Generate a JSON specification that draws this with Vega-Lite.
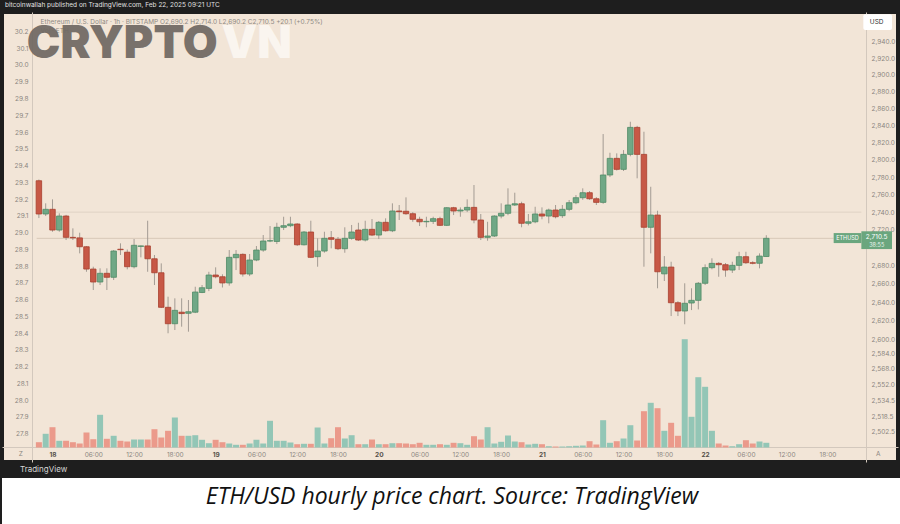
{
"$schema": "https://vega.github.io/schema/vega-lite/v6.json",
"background": "#1e1e1e",
"padding": 0,
"spacing": 2,
"config": {"font": "Inter", "view": {"stroke": null}},
"vconcat": [
{
"title": {"text": "bitcoinwallah published on TradingView.com, Feb 22, 2025 09:21 UTC", "anchor": "start", "dx": 3, "fontSize": 6.5, "fontWeight": "normal", "color": "#e0e0e0", "offset": 3.5, "font": "Inter"},
"width": 896,
"height": 450,
"view": {"fill": "#f2e5d7", "stroke": "#1e1e1e", "strokeWidth": 4},
"data": {"values": [
{"t":"2025-02-17T22:00Z","o":2775.8,"h":2777.2,"l":2733.3,"c":2737.9,"v":530},
{"t":"2025-02-17T23:00Z","o":2737.9,"h":2750.0,"l":2735.6,"c":2743.2,"v":1370},
{"t":"2025-02-18T00:00Z","o":2743.2,"h":2754.5,"l":2717.9,"c":2719.8,"v":2030},
{"t":"2025-02-18T01:00Z","o":2719.8,"h":2738.7,"l":2717.9,"c":2735.6,"v":670},
{"t":"2025-02-18T02:00Z","o":2735.6,"h":2736.9,"l":2708.6,"c":2711.6,"v":670},
{"t":"2025-02-18T03:00Z","o":2711.6,"h":2721.7,"l":2708.6,"c":2711.0,"v":530},
{"t":"2025-02-18T04:00Z","o":2711.0,"h":2716.8,"l":2693.7,"c":2701.1,"v":400},
{"t":"2025-02-18T05:00Z","o":2701.1,"h":2701.8,"l":2673.3,"c":2676.3,"v":1500},
{"t":"2025-02-18T06:00Z","o":2676.3,"h":2678.9,"l":2653.2,"c":2662.0,"v":830},
{"t":"2025-02-18T07:00Z","o":2662.0,"h":2677.1,"l":2658.7,"c":2671.6,"v":3270},
{"t":"2025-02-18T08:00Z","o":2671.6,"h":2677.1,"l":2653.2,"c":2667.2,"v":870},
{"t":"2025-02-18T09:00Z","o":2667.2,"h":2697.4,"l":2664.2,"c":2696.3,"v":1170},
{"t":"2025-02-18T10:00Z","o":2698.3,"h":2704.9,"l":2691.9,"c":2697.8,"v":670},
{"t":"2025-02-18T11:00Z","o":2695.0,"h":2698.0,"l":2676.0,"c":2678.9,"v":600},
{"t":"2025-02-18T12:00Z","o":2678.9,"h":2709.7,"l":2677.0,"c":2702.7,"v":800},
{"t":"2025-02-18T13:00Z","o":2701.5,"h":2702.3,"l":2689.3,"c":2702.0,"v":800},
{"t":"2025-02-18T14:00Z","o":2702.0,"h":2730.3,"l":2673.3,"c":2687.7,"v":800},
{"t":"2025-02-18T15:00Z","o":2687.7,"h":2691.9,"l":2658.7,"c":2672.2,"v":1830},
{"t":"2025-02-18T16:00Z","o":2672.2,"h":2682.6,"l":2633.5,"c":2634.3,"v":1000},
{"t":"2025-02-18T17:00Z","o":2634.3,"h":2645.9,"l":2606.2,"c":2616.5,"v":1670},
{"t":"2025-02-18T18:00Z","o":2616.5,"h":2644.1,"l":2609.7,"c":2631.0,"v":3000},
{"t":"2025-02-18T19:00Z","o":2629.0,"h":2644.1,"l":2613.3,"c":2627.5,"v":1170},
{"t":"2025-02-18T20:00Z","o":2627.8,"h":2642.3,"l":2607.9,"c":2629.5,"v":1170},
{"t":"2025-02-18T21:00Z","o":2629.0,"h":2656.8,"l":2628.0,"c":2651.0,"v":1230},
{"t":"2025-02-18T22:00Z","o":2650.5,"h":2658.7,"l":2649.8,"c":2655.7,"v":770},
{"t":"2025-02-18T23:00Z","o":2655.0,"h":2673.3,"l":2652.0,"c":2669.7,"v":430},
{"t":"2025-02-19T00:00Z","o":2669.7,"h":2678.2,"l":2666.1,"c":2667.8,"v":770},
{"t":"2025-02-19T01:00Z","o":2667.8,"h":2670.5,"l":2656.0,"c":2661.0,"v":530},
{"t":"2025-02-19T02:00Z","o":2661.0,"h":2697.4,"l":2658.0,"c":2689.3,"v":400},
{"t":"2025-02-19T03:00Z","o":2688.9,"h":2697.4,"l":2675.2,"c":2692.6,"v":270},
{"t":"2025-02-19T04:00Z","o":2692.6,"h":2693.7,"l":2668.0,"c":2670.8,"v":270},
{"t":"2025-02-19T05:00Z","o":2670.8,"h":2693.0,"l":2668.5,"c":2686.3,"v":400},
{"t":"2025-02-19T06:00Z","o":2686.3,"h":2701.9,"l":2685.0,"c":2697.4,"v":770},
{"t":"2025-02-19T07:00Z","o":2697.4,"h":2714.2,"l":2695.5,"c":2707.5,"v":400},
{"t":"2025-02-19T08:00Z","o":2707.5,"h":2724.3,"l":2706.2,"c":2707.8,"v":2670},
{"t":"2025-02-19T09:00Z","o":2707.0,"h":2728.0,"l":2704.1,"c":2722.9,"v":670},
{"t":"2025-02-19T10:00Z","o":2722.9,"h":2734.8,"l":2719.8,"c":2724.7,"v":670},
{"t":"2025-02-19T11:00Z","o":2724.7,"h":2734.8,"l":2723.0,"c":2726.6,"v":500},
{"t":"2025-02-19T12:00Z","o":2726.6,"h":2727.5,"l":2702.0,"c":2703.3,"v":330},
{"t":"2025-02-19T13:00Z","o":2703.3,"h":2718.7,"l":2702.5,"c":2717.6,"v":370},
{"t":"2025-02-19T14:00Z","o":2717.6,"h":2730.3,"l":2688.5,"c":2689.3,"v":370},
{"t":"2025-02-19T15:00Z","o":2690.0,"h":2710.5,"l":2678.9,"c":2696.3,"v":2000},
{"t":"2025-02-19T16:00Z","o":2696.3,"h":2717.9,"l":2694.5,"c":2710.5,"v":400},
{"t":"2025-02-19T17:00Z","o":2711.2,"h":2718.7,"l":2699.3,"c":2709.4,"v":930},
{"t":"2025-02-19T18:00Z","o":2709.4,"h":2712.0,"l":2697.4,"c":2698.9,"v":2030},
{"t":"2025-02-19T19:00Z","o":2698.9,"h":2722.9,"l":2694.4,"c":2710.5,"v":900},
{"t":"2025-02-19T20:00Z","o":2710.5,"h":2725.5,"l":2709.0,"c":2717.6,"v":1230},
{"t":"2025-02-19T21:00Z","o":2719.8,"h":2728.0,"l":2707.5,"c":2708.6,"v":330},
{"t":"2025-02-19T22:00Z","o":2708.6,"h":2730.3,"l":2707.0,"c":2720.6,"v":330},
{"t":"2025-02-19T23:00Z","o":2720.6,"h":2732.2,"l":2713.0,"c":2714.2,"v":800},
{"t":"2025-02-20T00:00Z","o":2714.2,"h":2730.0,"l":2709.7,"c":2728.5,"v":330},
{"t":"2025-02-20T01:00Z","o":2728.5,"h":2733.0,"l":2718.0,"c":2719.0,"v":330},
{"t":"2025-02-20T02:00Z","o":2719.0,"h":2750.0,"l":2717.5,"c":2741.3,"v":430},
{"t":"2025-02-20T03:00Z","o":2741.3,"h":2748.1,"l":2731.1,"c":2740.5,"v":430},
{"t":"2025-02-20T04:00Z","o":2741.0,"h":2756.8,"l":2737.0,"c":2738.2,"v":400},
{"t":"2025-02-20T05:00Z","o":2738.2,"h":2740.0,"l":2729.1,"c":2731.9,"v":330},
{"t":"2025-02-20T06:00Z","o":2731.9,"h":2734.8,"l":2724.3,"c":2729.1,"v":470},
{"t":"2025-02-20T07:00Z","o":2729.1,"h":2734.8,"l":2722.9,"c":2729.6,"v":270},
{"t":"2025-02-20T08:00Z","o":2729.6,"h":2734.8,"l":2726.6,"c":2732.6,"v":270},
{"t":"2025-02-20T09:00Z","o":2732.6,"h":2734.8,"l":2724.3,"c":2725.1,"v":330},
{"t":"2025-02-20T10:00Z","o":2725.1,"h":2745.6,"l":2724.3,"c":2745.0,"v":270},
{"t":"2025-02-20T11:00Z","o":2745.0,"h":2746.0,"l":2736.7,"c":2741.3,"v":470},
{"t":"2025-02-20T12:00Z","o":2741.3,"h":2745.4,"l":2734.8,"c":2742.4,"v":430},
{"t":"2025-02-20T13:00Z","o":2742.4,"h":2754.5,"l":2740.1,"c":2745.4,"v":270},
{"t":"2025-02-20T14:00Z","o":2745.4,"h":2770.9,"l":2727.4,"c":2731.1,"v":1130},
{"t":"2025-02-20T15:00Z","o":2731.1,"h":2737.9,"l":2708.6,"c":2711.6,"v":800},
{"t":"2025-02-20T16:00Z","o":2711.6,"h":2729.1,"l":2707.8,"c":2713.1,"v":2030},
{"t":"2025-02-20T17:00Z","o":2713.1,"h":2736.5,"l":2712.0,"c":2735.6,"v":400},
{"t":"2025-02-20T18:00Z","o":2735.6,"h":2750.0,"l":2733.0,"c":2738.7,"v":570},
{"t":"2025-02-20T19:00Z","o":2738.7,"h":2767.1,"l":2736.5,"c":2748.1,"v":1200},
{"t":"2025-02-20T20:00Z","o":2748.1,"h":2762.1,"l":2747.0,"c":2749.5,"v":600},
{"t":"2025-02-20T21:00Z","o":2749.5,"h":2751.8,"l":2722.9,"c":2727.4,"v":530},
{"t":"2025-02-20T22:00Z","o":2727.4,"h":2737.9,"l":2725.0,"c":2729.1,"v":300},
{"t":"2025-02-20T23:00Z","o":2729.1,"h":2746.1,"l":2727.5,"c":2737.9,"v":370},
{"t":"2025-02-21T00:00Z","o":2737.9,"h":2745.4,"l":2731.9,"c":2735.6,"v":330},
{"t":"2025-02-21T01:00Z","o":2735.6,"h":2744.0,"l":2727.4,"c":2742.4,"v":130},
{"t":"2025-02-21T02:00Z","o":2742.4,"h":2748.1,"l":2733.0,"c":2734.8,"v":100},
{"t":"2025-02-21T03:00Z","o":2736.0,"h":2748.1,"l":2733.5,"c":2743.2,"v":100},
{"t":"2025-02-21T04:00Z","o":2743.2,"h":2753.8,"l":2741.0,"c":2750.7,"v":130},
{"t":"2025-02-21T05:00Z","o":2750.7,"h":2759.4,"l":2749.0,"c":2756.4,"v":170},
{"t":"2025-02-21T06:00Z","o":2756.4,"h":2767.1,"l":2754.0,"c":2762.1,"v":200},
{"t":"2025-02-21T07:00Z","o":2762.1,"h":2764.0,"l":2754.0,"c":2755.2,"v":630},
{"t":"2025-02-21T08:00Z","o":2755.2,"h":2757.0,"l":2748.1,"c":2751.1,"v":300},
{"t":"2025-02-21T09:00Z","o":2751.1,"h":2829.9,"l":2749.5,"c":2782.4,"v":2730},
{"t":"2025-02-21T10:00Z","o":2782.4,"h":2808.1,"l":2780.0,"c":2801.6,"v":470},
{"t":"2025-02-21T11:00Z","o":2801.6,"h":2807.4,"l":2787.5,"c":2788.9,"v":630},
{"t":"2025-02-21T12:00Z","o":2788.9,"h":2811.2,"l":2787.0,"c":2806.2,"v":900},
{"t":"2025-02-21T13:00Z","o":2806.2,"h":2844.3,"l":2804.0,"c":2837.7,"v":2230},
{"t":"2025-02-21T14:00Z","o":2837.7,"h":2839.5,"l":2778.6,"c":2806.2,"v":700},
{"t":"2025-02-21T15:00Z","o":2806.2,"h":2832.6,"l":2678.9,"c":2722.9,"v":3630},
{"t":"2025-02-21T16:00Z","o":2722.9,"h":2768.9,"l":2693.7,"c":2736.7,"v":4470},
{"t":"2025-02-21T17:00Z","o":2736.7,"h":2741.6,"l":2655.1,"c":2673.3,"v":3930},
{"t":"2025-02-21T18:00Z","o":2671.0,"h":2690.7,"l":2663.1,"c":2678.5,"v":1670},
{"t":"2025-02-21T19:00Z","o":2678.5,"h":2684.4,"l":2624.8,"c":2639.3,"v":2470},
{"t":"2025-02-21T20:00Z","o":2639.3,"h":2641.0,"l":2624.8,"c":2630.3,"v":1170},
{"t":"2025-02-21T21:00Z","o":2630.3,"h":2660.6,"l":2615.9,"c":2638.7,"v":10830},
{"t":"2025-02-21T22:00Z","o":2639.0,"h":2655.1,"l":2631.3,"c":2641.9,"v":3070},
{"t":"2025-02-21T23:00Z","o":2641.9,"h":2662.0,"l":2632.0,"c":2660.6,"v":7030},
{"t":"2025-02-22T00:00Z","o":2660.6,"h":2681.5,"l":2658.7,"c":2677.8,"v":6070},
{"t":"2025-02-22T01:00Z","o":2677.8,"h":2688.2,"l":2676.0,"c":2682.6,"v":1670},
{"t":"2025-02-22T02:00Z","o":2682.6,"h":2684.0,"l":2667.8,"c":2681.1,"v":400},
{"t":"2025-02-22T03:00Z","o":2681.1,"h":2683.0,"l":2667.8,"c":2675.2,"v":200},
{"t":"2025-02-22T04:00Z","o":2675.2,"h":2684.4,"l":2672.0,"c":2680.4,"v":130},
{"t":"2025-02-22T05:00Z","o":2680.4,"h":2695.5,"l":2675.2,"c":2690.0,"v":330},
{"t":"2025-02-22T06:00Z","o":2690.0,"h":2695.5,"l":2682.0,"c":2683.3,"v":730},
{"t":"2025-02-22T07:00Z","o":2683.3,"h":2685.0,"l":2681.5,"c":2682.7,"v":400},
{"t":"2025-02-22T08:00Z","o":2682.7,"h":2693.7,"l":2677.1,"c":2690.7,"v":600},
{"t":"2025-02-22T09:00Z","o":2690.2,"h":2714.0,"l":2690.2,"c":2710.5,"v":470}
]},
"resolve": {"scale": {"y": "independent"}, "axis": {"y": "independent"}},
"layer": [
{
"mark": {"type": "bar", "size": 6},
"encoding": {
"x": {"field": "t", "type": "temporal", "title": null,
"scale": {"type": "utc", "domain": [1739812712727, 1740281890909], "nice": false},
"axis": {"orient": "bottom", "offset": -15, "title": null, "ticks": false, "grid": false,
"values": [1739836800000,1739858400000,1739880000000,1739901600000,1739923200000,1739944800000,1739966400000,1739988000000,1740009600000,1740031200000,1740052800000,1740074400000,1740096000000,1740117600000,1740139200000,1740160800000,1740182400000,1740204000000,1740225600000,1740247200000],
"labelExpr": "utchours(datum.value) == 0 ? utcFormat(datum.value, '%-d') : utcFormat(datum.value, '%H:%M')",
"labelFontSize": 6.5, "labelPadding": 4, "labelFlush": false, "labelOverlap": false,
"labelColor": {"condition": {"test": "utchours(datum.value) == 0", "value": "#555049"}, "value": "#8b8580"},
"labelFontWeight": {"condition": {"test": "utchours(datum.value) == 0", "value": "bold"}, "value": "normal"},
"domainColor": "#d3c8bd", "domainWidth": 1}},
"y": {"field": "v", "type": "quantitative", "title": null, "scale": {"domain": [-1450, 43550], "nice": false, "zero": false}, "axis": null},
"color": {"condition": {"test": "datum.c >= datum.o", "value": "#93c6b6"}, "value": "#eb9a8b"}
}
},
{
"data": {"values": [{}]},
"mark": {"type": "rule", "opacity": 0},
"encoding": {
"y": {"datum": 29, "type": "quantitative",
"scale": {"domain": [27.6299, 30.3164], "nice": false, "zero": false},
"axis": {"orient": "left", "offset": -30, "title": null, "ticks": false, "grid": false,
"values": [30.2,30.1,30.0,29.9,29.8,29.7,29.6,29.5,29.4,29.3,29.2,29.1,29.0,28.9,28.8,28.7,28.6,28.5,28.4,28.3,28.2,28.1,28.0,27.9,27.8],
"format": ".1f", "labelFontSize": 6.5, "labelPadding": 4, "labelColor": "#8b8580", "labelOverlap": false,
"domainColor": "#d3c8bd"}}
}
},
{
"layer": [
{
"data": {"values": [{}]},
"mark": {"type": "rule", "color": "#e0d3c5", "strokeWidth": 1},
"encoding": {"x": {"datum": 1739828421818, "type": "temporal"}, "x2": {"datum": 1740265134545}, "y": {"datum": 2740, "type": "quantitative"}}
},
{
"data": {"values": [{}]},
"mark": {"type": "rule", "color": "#d8c8b8", "strokeWidth": 1},
"encoding": {"x": {"datum": 1739828421818, "type": "temporal"}, "x2": {"datum": 1740250472727}, "y": {"datum": 2710.5, "type": "quantitative"}}
},
{
"mark": {"type": "rule", "color": "#a39b93", "strokeWidth": 1},
"encoding": {
"x": {"field": "t", "type": "temporal", "title": null},
"y": {"field": "l", "type": "quantitative", "title": null,
"scale": {"type": "log", "domain": [2471.15, 2976.31], "nice": false, "zero": false},
"axis": {"orient": "right", "offset": -32, "title": null, "ticks": false, "grid": false,
"values": [2940,2920,2900,2880,2860,2840,2820,2800,2780,2760,2740,2720,2680,2660,2640,2620,2600,2584,2568,2552,2534.5,2518.5,2502.5],
"format": ",.1f", "labelFontSize": 6.5, "labelPadding": 5, "labelColor": "#8b8580", "labelOverlap": false,
"domainColor": "#d3c8bd"}},
"y2": {"field": "h"}
}
},
{
"mark": {"type": "bar", "size": 5.5, "strokeWidth": 0.8},
"encoding": {
"x": {"field": "t", "type": "temporal", "title": null},
"y": {"field": "o", "type": "quantitative", "title": null},
"y2": {"field": "c"},
"fill": {"condition": {"test": "datum.c >= datum.o", "value": "#70a886"}, "value": "#c75846"},
"stroke": {"condition": {"test": "datum.c >= datum.o", "value": "#4f8a66"}, "value": "#a8402f"}
}
},
{
"data": {"values": [{}]},
"mark": {"type": "rect", "color": "#6aa67e"},
"encoding": {"x": {"datum": 1740250472727, "type": "temporal"}, "x2": {"datum": 1740265134545}, "y": {"datum": 2716.4, "type": "quantitative"}, "y2": {"datum": 2705.2}}
},
{
"data": {"values": [{}]},
"mark": {"type": "rect", "color": "#6aa67e"},
"encoding": {"x": {"datum": 1740265134545, "type": "temporal"}, "x2": {"datum": 1740281367273}, "y": {"datum": 2718.4, "type": "quantitative"}, "y2": {"datum": 2698.5}}
},
{
"data": {"values": [{}]},
"mark": {"type": "rect", "color": "#ffffff", "cornerRadius": 2},
"encoding": {"x": {"datum": 1740266181818, "type": "temporal"}, "x2": {"datum": 1740281367273}, "y": {"datum": 2973.5, "type": "quantitative"}, "y2": {"datum": 2954.3}}
},
{
"data": {"values": [{"s": "ETHUSD"}]},
"mark": {"type": "text", "fontSize": 5.5, "color": "#ffffff", "align": "center", "baseline": "middle"},
"encoding": {"x": {"datum": 1740257803636, "type": "temporal"}, "y": {"datum": 2710.8, "type": "quantitative"}, "text": {"field": "s"}}
},
{
"data": {"values": [{"s": "2,710.5"}]},
"mark": {"type": "text", "fontSize": 6.5, "color": "#ffffff", "align": "center", "baseline": "middle"},
"encoding": {"x": {"datum": 1740273250909, "type": "temporal"}, "y": {"datum": 2711.8, "type": "quantitative"}, "text": {"field": "s"}}
},
{
"data": {"values": [{"s": "38:55"}]},
"mark": {"type": "text", "fontSize": 5.5, "color": "#e8f3ec", "align": "center", "baseline": "middle"},
"encoding": {"x": {"datum": 1740273250909, "type": "temporal"}, "y": {"datum": 2703.0, "type": "quantitative"}, "text": {"field": "s"}}
},
{
"data": {"values": [{"s": "USD"}]},
"mark": {"type": "text", "fontSize": 6.5, "color": "#333333", "align": "center", "baseline": "middle"},
"encoding": {"x": {"datum": 1740273250909, "type": "temporal"}, "y": {"datum": 2964.0, "type": "quantitative"}, "text": {"field": "s"}}
},
{
"data": {"values": [{"s": "Ethereum / U.S. Dollar · 1h · BITSTAMP   O2,690.2  H2,714.0  L2,690.2  C2,710.5  +20.1 (+0.75%)"}]},
"mark": {"type": "text", "fontSize": 6.5, "color": "#8f8a84", "align": "left", "baseline": "middle"},
"encoding": {"x": {"datum": 1739830516364, "type": "temporal"}, "y": {"datum": 2964.0, "type": "quantitative"}, "text": {"field": "s"}}
},
{
"data": {"values": [{"s": "Vol · ETH"}]},
"mark": {"type": "text", "fontSize": 6.5, "color": "#8f8a84", "align": "left", "baseline": "middle"},
"encoding": {"x": {"datum": 1739830516364, "type": "temporal"}, "y": {"datum": 2953.6, "type": "quantitative"}, "text": {"field": "s"}}
},
{
"data": {"values": [{"s": "Z"}]},
"mark": {"type": "text", "fontSize": 6.5, "color": "#8b8580", "align": "center", "baseline": "middle"},
"encoding": {"x": {"datum": 1739820043636, "type": "temporal"}, "y": {"datum": 2479.3, "type": "quantitative"}, "text": {"field": "s"}}
},
{
"data": {"values": [{"s": "A"}]},
"mark": {"type": "text", "fontSize": 6.5, "color": "#8b8580", "align": "center", "baseline": "middle"},
"encoding": {"x": {"datum": 1740274036364, "type": "temporal"}, "y": {"datum": 2479.3, "type": "quantitative"}, "text": {"field": "s"}}
},
{
"data": {"values": [{"s": "CRYPTO"}]},
"mark": {"type": "text", "fontSize": 45, "fontWeight": 900, "font": "Inter", "color": "#6f6862", "opacity": 0.92, "align": "left", "baseline": "middle"},
"encoding": {"x": {"datum": 1739823185455, "type": "temporal"}, "y": {"datum": 2937.8, "type": "quantitative"}, "text": {"field": "s"}}
},
{
"data": {"values": [{"s": "VN"}]},
"mark": {"type": "text", "fontSize": 45, "fontWeight": 900, "font": "Inter", "color": "#fbf7f2", "opacity": 0.9, "align": "left", "baseline": "middle"},
"encoding": {"x": {"datum": 1739926342000, "type": "temporal"}, "y": {"datum": 2937.8, "type": "quantitative"}, "text": {"field": "s"}}
}
]
}
]
},
{
"title": {"text": "TradingView", "anchor": "start", "dx": 18, "fontSize": 8, "fontWeight": "normal", "color": "#d6d6d6", "offset": 4, "font": "Inter"},
"width": 900,
"height": 46,
"view": {"fill": "#ffffff", "stroke": null},
"data": {"values": [{"caption": "ETH/USD hourly price chart. Source: TradingView"}]},
"mark": {"type": "text", "font": "'Liberation Sans Narrow', 'Open Sans', sans-serif", "fontStyle": "italic", "fontSize": 23, "color": "#111111", "dy": -4},
"encoding": {"text": {"field": "caption", "type": "nominal"}}
}
]
}
